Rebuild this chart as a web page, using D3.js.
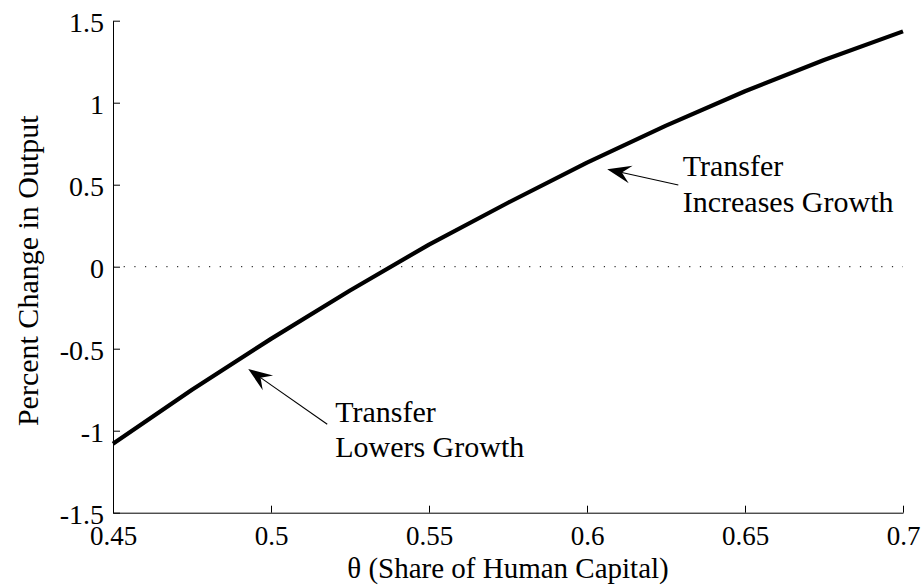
<!DOCTYPE html>
<html>
<head>
<meta charset="utf-8">
<script src="https://cdn.jsdelivr.net/npm/d3@7/dist/d3.min.js"></script>
<style>
  html, body { margin: 0; padding: 0; background: #fff; }
  svg { display: block; }
</style>
</head>
<body>
<svg id="chart" width="922" height="585"></svg>
<script>
// ---- data ----
const theta = [0.45, 0.475, 0.5, 0.525, 0.55, 0.575, 0.6, 0.625, 0.65, 0.675, 0.7];
const pctChange = [-1.08, -0.75, -0.44, -0.145, 0.135, 0.39, 0.635, 0.86, 1.07, 1.26, 1.435];
const xTicks = [0.45, 0.5, 0.55, 0.6, 0.65, 0.7];
const xTickLabels = ["0.45", "0.5", "0.55", "0.6", "0.65", "0.7"];
const yTicks = [-1.5, -1, -0.5, 0, 0.5, 1, 1.5];
const yTickLabels = ["-1.5", "-1", "-0.5", "0", "0.5", "1", "1.5"];
const xLabel = "\u03B8 (Share of Human Capital)";
const yLabel = "Percent Change in Output";
// annotations: arrow tip, arrow tail, text anchor (data coords)
const annotations = [
  { tip: [0.6064, 0.594], tail: [0.6289, 0.498], text: [0.6303, 0.553], lines: ["Transfer", "Increases Growth"] },
  { tip: [0.4928, -0.624], tail: [0.5178, -0.961], text: [0.5203, -0.945], lines: ["Transfer", "Lowers Growth"] }
];

// ---- layout ----
const W = 922, H = 585;
const margin = { left: 113, right: 19, top: 20.7, bottom: 72.3 };
const font = "'Liberation Serif', 'Times New Roman', serif";

const svg = d3.select("#chart");
const x = d3.scaleLinear().domain([0.45, 0.7]).range([margin.left, W - margin.right]);
const y = d3.scaleLinear().domain([-1.5, 1.5]).range([H - margin.bottom, margin.top]);

// zero dotted line
svg.append("line")
  .attr("x1", x(0.45)).attr("x2", x(0.7))
  .attr("y1", y(0)).attr("y2", y(0))
  .attr("stroke", "#000").attr("stroke-width", 1)
  .attr("stroke-dasharray", "1.2,9.47");

// axes
const xAxis = d3.axisBottom(x).tickValues(xTicks)
  .tickFormat((d, i) => xTickLabels[i]).tickSizeInner(-7).tickSizeOuter(0).tickPadding(13);
const yAxis = d3.axisLeft(y).tickValues(yTicks)
  .tickFormat((d, i) => yTickLabels[i]).tickSizeInner(-7).tickSizeOuter(0).tickPadding(9);

const gx = svg.append("g").attr("transform", `translate(0,${y(-1.5)})`).call(xAxis);
const gy = svg.append("g").attr("transform", `translate(${x(0.45)},0)`).call(yAxis);
[gx, gy].forEach(g => {
  g.attr("font-family", font).attr("font-size", 28);
  g.selectAll("path, line").attr("stroke", "#000").attr("stroke-width", 1);
  g.selectAll("text").attr("fill", "#000");
});
gy.selectAll("text").attr("dy", "0.38em");
gx.selectAll("text").attr("font-size", 27);

// curve
svg.append("path")
  .datum(theta.map((t, i) => [t, pctChange[i]]))
  .attr("fill", "none").attr("stroke", "#000").attr("stroke-width", 4.2)
  .attr("stroke-linejoin", "round")
  .attr("d", d3.line().x(d => x(d[0])).y(d => y(d[1])));

// labels
svg.append("text")
  .attr("x", (x(0.45) + x(0.7)) / 2).attr("y", 578)
  .attr("text-anchor", "middle").attr("font-family", font).attr("font-size", 29)
  .text(xLabel);
svg.append("text")
  .attr("transform", `translate(38,${(y(-1.5) + y(1.5)) / 2 + 4}) rotate(-90)`)
  .attr("text-anchor", "middle").attr("font-family", font).attr("font-size", 30)
  .text(yLabel);

// annotations
annotations.forEach(a => {
  const tx = x(a.tip[0]), ty = y(a.tip[1]);
  const sx = x(a.tail[0]), sy = y(a.tail[1]);
  const dx = sx - tx, dy = sy - ty, L = Math.hypot(dx, dy);
  const ux = dx / L, uy = dy / L, px = -uy, py = ux;
  const len = 24, hw = 9, notch = 15;
  svg.append("line")
    .attr("x1", sx).attr("y1", sy)
    .attr("x2", tx + ux * notch).attr("y2", ty + uy * notch)
    .attr("stroke", "#000").attr("stroke-width", 1.1);
  const pts = [
    [tx, ty],
    [tx + ux * len + px * hw, ty + uy * len + py * hw],
    [tx + ux * notch, ty + uy * notch],
    [tx + ux * len - px * hw, ty + uy * len - py * hw]
  ];
  svg.append("path").attr("d", "M" + pts.map(p => p.join(",")).join("L") + "Z").attr("fill", "#000");
  const t = svg.append("text")
    .attr("x", x(a.text[0])).attr("y", y(a.text[1]))
    .attr("font-family", font).attr("font-size", 30);
  a.lines.forEach((ln, i) => {
    t.append("tspan").attr("x", x(a.text[0])).attr("dy", i === 0 ? 0 : 35.5).text(ln);
  });
});
</script>
</body>
</html>
